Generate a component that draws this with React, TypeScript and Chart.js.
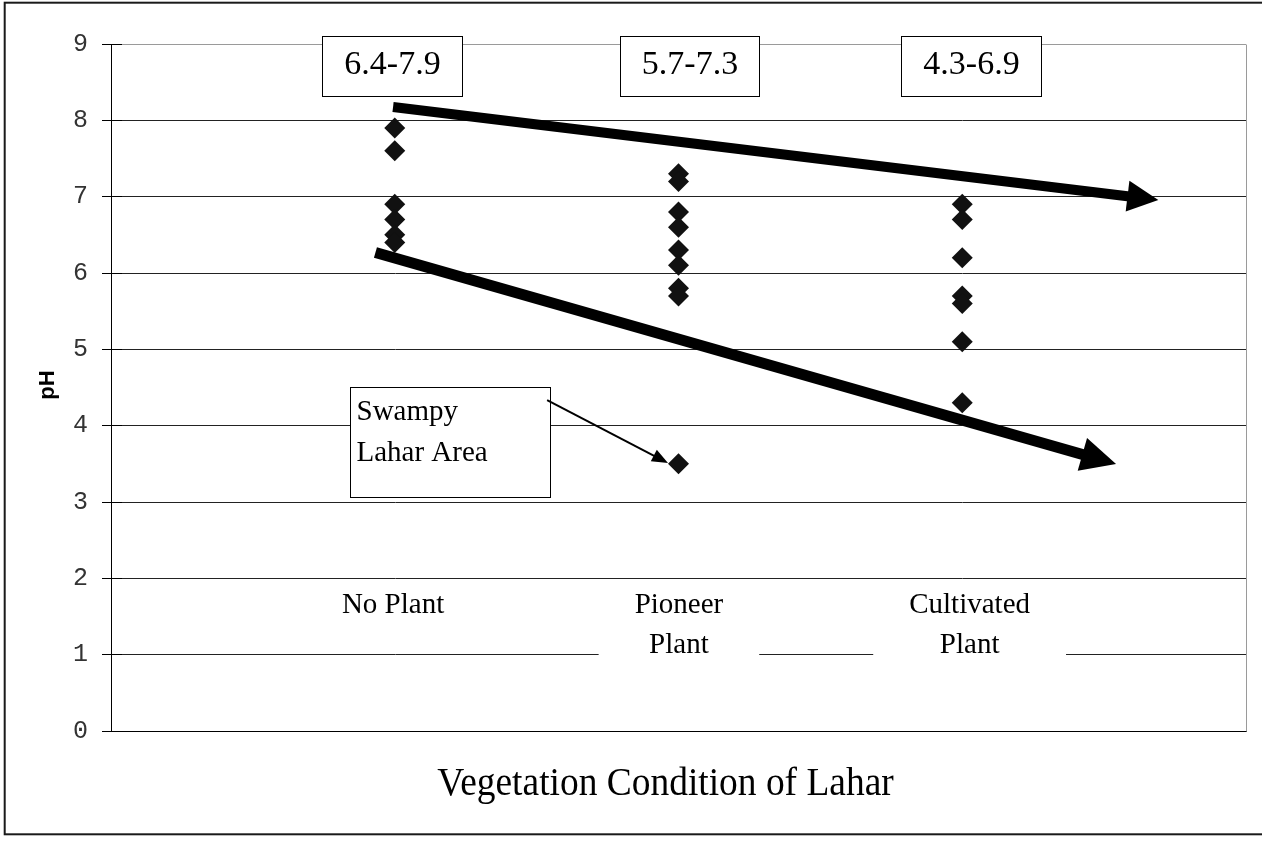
import React, { useEffect, useRef } from 'react';
import { Chart, registerables } from 'chart.js';

Chart.register(...registerables);

// ---- data ----
const categoryLines = [['No Plant'], ['Pioneer', 'Plant'], ['Cultivated', 'Plant']];
const categoryX = [1, 2, 3];
const noPlantPH = [7.9, 7.6, 6.9, 6.7, 6.5, 6.4];
const pioneerPH = [7.3, 7.2, 6.8, 6.6, 6.3, 6.1, 5.8, 5.7, 3.5];
const cultivatedPH = [6.9, 6.7, 6.2, 5.7, 5.6, 5.1, 4.3];
const rangeLabels = ['6.4-7.9', '5.7-7.3', '4.3-6.9'];
const yMin = 0;
const yMax = 9;
const yTitle = 'pH';
const xTitle = 'Vegetation Condition of Lahar';
const swampyLines = ['Swampy', 'Lahar Area'];

// ---- annotation anchors (data units) ----
const rangeBoxX = [0.99, 2.039, 3.03];
const rangeBoxY = [9.11, 8.32];
const rangeBoxHalfW = 0.246;
const trendArrows = [
  { from: [0.994, 8.175], to: [3.691, 6.957], width: 10, head: 31, headW: 31 },
  { from: [0.932, 6.269], to: [3.542, 3.498], width: 11, head: 35, headW: 34 },
];
const swampyBox = { x0: 0.842, x1: 1.547, y0: 4.507, y1: 3.066 };
const swampyArrow = { from: [1.537, 4.336], to: [1.963, 3.511] };
const categoryLabelX = [0.994, 2.0015, 3.026];
const categoryLabelY = 1.55;

const SERIF = '"Liberation Serif", "Times New Roman", serif';

function drawArrow(ctx: CanvasRenderingContext2D, x1: number, y1: number, x2: number, y2: number, w: number, head: number, headW: number) {
  const dx = x2 - x1;
  const dy = y2 - y1;
  const len = Math.hypot(dx, dy);
  const ux = dx / len;
  const uy = dy / len;
  const bx = x2 - ux * head;
  const by = y2 - uy * head;
  ctx.save();
  ctx.strokeStyle = '#000';
  ctx.fillStyle = '#000';
  ctx.lineWidth = w;
  ctx.lineCap = 'butt';
  ctx.beginPath();
  ctx.moveTo(x1, y1);
  ctx.lineTo(bx + ux * 2, by + uy * 2);
  ctx.stroke();
  ctx.beginPath();
  ctx.moveTo(x2, y2);
  ctx.lineTo(bx - uy * headW / 2, by + ux * headW / 2);
  ctx.lineTo(bx + uy * headW / 2, by - ux * headW / 2);
  ctx.closePath();
  ctx.fill();
  ctx.restore();
}

const overlayPlugin = {
  id: 'overlay',
  afterDatasetsDraw(chart: any) {
    const ctx: CanvasRenderingContext2D = chart.ctx;
    const xs = chart.scales.x;
    const ys = chart.scales.y;
    const area = chart.chartArea;
    const px = (v: number) => xs.getPixelForValue(v);
    const py = (v: number) => ys.getPixelForValue(v);
    const al = (p: number) => Math.round(p - 0.5) + 0.5;

    ctx.save();
    // plot area border (right), gray
    ctx.strokeStyle = '#9a9a9a';
    ctx.lineWidth = 1;
    ctx.beginPath();
    ctx.moveTo(al(area.right), al(area.top));
    ctx.lineTo(al(area.right), al(area.bottom));
    ctx.stroke();

    // inner half of cross tick marks
    ctx.strokeStyle = '#000';
    for (let v = yMin; v <= yMax; v++) {
      const y = al(py(v));
      ctx.beginPath();
      ctx.moveTo(area.left, y);
      ctx.lineTo(area.left + 11, y);
      ctx.stroke();
    }

    // trend arrows
    trendArrows.forEach((a) => {
      drawArrow(ctx, px(a.from[0]), py(a.from[1]), px(a.to[0]), py(a.to[1]), a.width, a.head, a.headW);
    });

    // range boxes
    ctx.font = `34px ${SERIF}`;
    ctx.textAlign = 'center';
    ctx.textBaseline = 'alphabetic';
    rangeLabels.forEach((t, i) => {
      const x0 = Math.round(px(rangeBoxX[i] - rangeBoxHalfW)) + 0.5;
      const x1 = Math.round(px(rangeBoxX[i] + rangeBoxHalfW)) + 0.5;
      const y0 = Math.round(py(rangeBoxY[0])) + 0.5;
      const y1 = Math.round(py(rangeBoxY[1])) + 0.5;
      ctx.fillStyle = '#fff';
      ctx.fillRect(x0, y0, x1 - x0, y1 - y0);
      ctx.strokeStyle = '#000';
      ctx.lineWidth = 1;
      ctx.strokeRect(x0, y0, x1 - x0, y1 - y0);
      ctx.fillStyle = '#000';
      ctx.fillText(t, (x0 + x1) / 2, y0 + 37);
    });

    // category labels (text boxes inside plot)
    ctx.font = `29px ${SERIF}`;
    categoryLines.forEach((lines, i) => {
      const cx = px(categoryLabelX[i]);
      const by = py(categoryLabelY);
      const maxW = Math.max(...lines.map((l) => ctx.measureText(l).width));
      const bw = maxW + 72;
      ctx.fillStyle = '#fff';
      ctx.fillRect(cx - bw / 2, by - 28, bw, (lines.length - 1) * 40 + 38);
      ctx.fillStyle = '#000';
      lines.forEach((l, j) => ctx.fillText(l, cx, by + j * 40));
    });

    // swampy box + arrow
    {
      const x0 = Math.round(px(swampyBox.x0)) + 0.5;
      const x1 = Math.round(px(swampyBox.x1)) + 0.5;
      const y0 = Math.round(py(swampyBox.y0)) + 0.5;
      const y1 = Math.round(py(swampyBox.y1)) + 0.5;
      ctx.fillStyle = '#fff';
      ctx.fillRect(x0, y0, x1 - x0, y1 - y0);
      ctx.strokeStyle = '#000';
      ctx.lineWidth = 1;
      ctx.strokeRect(x0, y0, x1 - x0, y1 - y0);
      ctx.fillStyle = '#000';
      ctx.textAlign = 'left';
      ctx.font = `29px ${SERIF}`;
      swampyLines.forEach((l, j) => ctx.fillText(l, x0 + 6, y0 + 32 + j * 41));
      drawArrow(ctx, px(swampyArrow.from[0]), py(swampyArrow.from[1]), px(swampyArrow.to[0]), py(swampyArrow.to[1]), 2, 16, 13);
    }

    // axis titles
    ctx.fillStyle = '#000';
    ctx.textAlign = 'center';
    ctx.save();
    ctx.translate((area.left + area.right) / 2 - 13, area.bottom + 64);
    ctx.scale(0.96, 1);
    ctx.font = `39px ${SERIF}`;
    ctx.fillText(xTitle, 0, 0);
    ctx.restore();

    ctx.save();
    ctx.translate(area.left - 63, py(4.533));
    ctx.rotate(-Math.PI / 2);
    ctx.font = 'bold 22px "Liberation Sans", Arial, sans-serif';
    ctx.textBaseline = 'middle';
    ctx.fillText(yTitle, 0, 0);
    ctx.restore();

    // outer frame
    ctx.strokeStyle = '#1a1a1a';
    ctx.lineWidth = 2;
    ctx.strokeRect(4.7, 2.7, 1300, 831.6);
    ctx.restore();
  },
};

export default function App() {
  const ref = useRef<HTMLCanvasElement>(null);
  useEffect(() => {
    if (!ref.current) return;
    const mk = (vals: number[], xi: number) => vals.map((v) => ({ x: categoryX[xi], y: v }));
    const pointStyle = {
      pointStyle: 'rectRot' as const,
      pointRadius: 10.5,
      pointHoverRadius: 10.5,
      backgroundColor: '#111',
      borderColor: '#111',
      borderWidth: 0,
      showLine: false,
    };
    const chart = new Chart(ref.current, {
      type: 'scatter',
      data: {
        datasets: [
          { label: 'No Plant', data: mk(noPlantPH, 0), ...pointStyle },
          { label: 'Pioneer Plant', data: mk(pioneerPH, 1), ...pointStyle },
          { label: 'Cultivated Plant', data: mk(cultivatedPH, 2), ...pointStyle },
        ],
      },
      options: {
        animation: false,
        responsive: false,
        events: [],
        layout: { padding: { left: 0, top: 44, right: 16, bottom: 0 } },
        plugins: { legend: { display: false }, tooltip: { enabled: false }, title: { display: false } },
        scales: {
          x: {
            type: 'linear',
            min: 0,
            max: categoryX.length + 1,
            grid: { display: false },
            ticks: { display: false },
            border: { display: true, color: '#000', width: 1 },
            afterFit: (s: any) => { s.height = 112; },
          },
          y: {
            type: 'linear',
            min: yMin,
            max: yMax,
            ticks: {
              stepSize: 1,
              padding: 14,
              color: '#333',
              font: { family: '"Liberation Mono", "DejaVu Sans Mono", monospace', size: 25 },
            },
            grid: {
              color: (c: any) => (c.tick && c.tick.value === yMax ? '#9a9a9a' : '#222'),
              tickColor: '#000',
              tickLength: 9,
              lineWidth: 1,
            },
            border: { display: true, color: '#000', width: 1 },
            afterFit: (s: any) => { s.width = 111; },
          },
        },
      },
      plugins: [overlayPlugin],
    });
    return () => chart.destroy();
  }, []);
  return (
    <div style={{ position: 'absolute', left: 0, top: 0, width: 1262, height: 843, background: '#fff' }}>
      <canvas ref={ref} width={1262} height={843} style={{ display: 'block' }} />
    </div>
  );
}
